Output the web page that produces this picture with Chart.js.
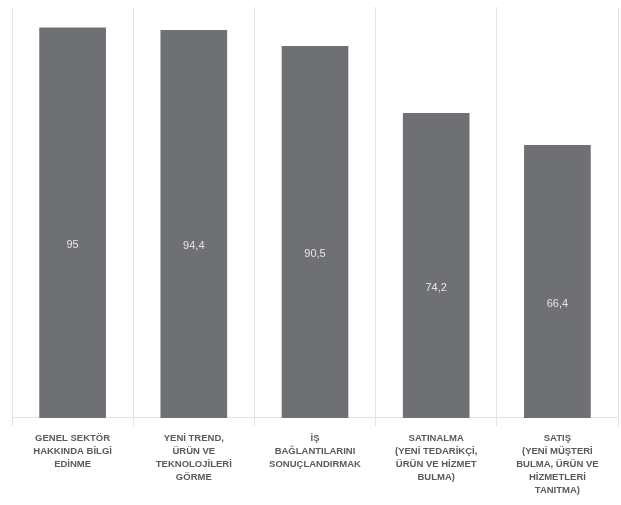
<!DOCTYPE html>
<html>
<head>
<meta charset="utf-8">
<script src="https://cdn.jsdelivr.net/npm/chart.js@4/dist/chart.umd.min.js"></script>
<style>
  html, body { margin: 0; padding: 0; background: #fff; }
  #wrap { width: 621px; height: 505px; }
</style>
</head>
<body>
<div id="wrap"><canvas id="bar_Katilim"></canvas></div>
<script>

const categories = [
    ["GENEL SEKTÖR", "HAKKINDA BİLGİ", "EDİNME"],
    ["YENİ TREND,", "ÜRÜN VE", "TEKNOLOJİLERİ", "GÖRME"],
    ["İŞ", "BAĞLANTILARINI", "SONUÇLANDIRMAK"],
    ["SATINALMA", "(YENİ TEDARİKÇİ,", "ÜRÜN VE HİZMET", "BULMA)"],
    ["SATIŞ", "(YENİ MÜŞTERİ", "BULMA, ÜRÜN VE", "HİZMETLERİ", "TANITMA)"]
];
const values = [95, 94.4, 90.5, 74.2, 66.4];

// value text inside each bar, a bit below the middle
const insideLabels = {
    id: "insideLabels",
    afterDatasetsDraw(chart) {
        const ctx = chart.ctx;
        const meta = chart.getDatasetMeta(0);
        ctx.save();
        ctx.fillStyle = "#e4e4e6";
        ctx.font = "11px 'Liberation Sans', Arial, sans-serif";
        ctx.textAlign = "center";
        ctx.textBaseline = "middle";
        meta.data.forEach((bar, i) => {
            const mid = (bar.y + bar.base) / 2 + 22;
            ctx.fillText(String(values[i]).replace(".", ","), bar.x, mid);
        });
        ctx.restore();
    }
};

const config_Katilim = {
    type: "bar",
    data: {
        labels: categories,
        datasets: [
            {
                label: "katılım",
                data: values,
                backgroundColor: "rgb(111,112,116)",
                barPercentage: 0.55,
                categoryPercentage: 1
            }
        ]
    },
    options: {
        responsive: true,
        maintainAspectRatio: false,
        animation: false,
        layout: {
            padding: { left: 12, right: 3, top: 7, bottom: 2 }
        },
        plugins: {
            legend: { display: false },
            tooltip: { enabled: false }
        },
        scales: {
            x: {
                grid: {
                    display: true,
                    offset: true,
                    color: "#e4e4e4",
                    tickLength: 8
                },
                border: { display: true, color: "#e4e4e4" },
                ticks: {
                    color: "#5a5a5a",
                    padding: 6,
                    maxRotation: 0,
                    autoSkip: false,
                    font: { family: "'Liberation Sans', Arial, sans-serif", size: 9.5, weight: "bold", lineHeight: 1.37 }
                }
            },
            y: {
                display: false,
                min: 0,
                max: 100
            }
        }
    },
    plugins: [insideLabels]
};

const ctx_Katilim = document.getElementById("bar_Katilim").getContext("2d");

const myChart_Katilim = new Chart(ctx_Katilim, config_Katilim);

</script>
</body>
</html>
